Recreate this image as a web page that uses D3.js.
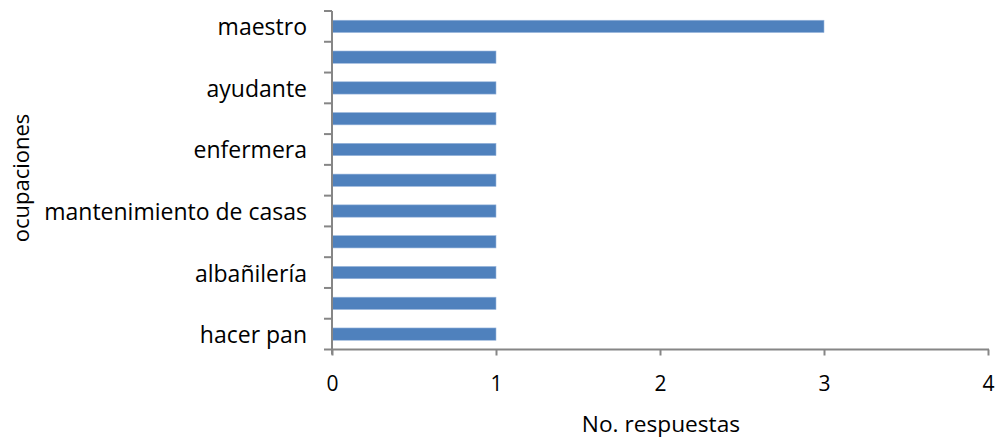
<!DOCTYPE html>
<html><head><meta charset="utf-8">
<script src="https://cdn.jsdelivr.net/npm/d3@7"></script>
<style>body{margin:0;background:#fff}svg{display:block}text{font-family:"Open Sans",sans-serif;fill:#000}</style>
</head><body>
<svg id="c" width="996" height="439"></svg>
<script>
// categories top to bottom; unlabeled ones are hidden (Excel skipped labels)
const categories = ["maestro","","ayudante","","enfermera","","mantenimiento de casas","","albañilería","","hacer pan"];
const values = [3,1,1,1,1,1,1,1,1,1,1];
const xTicks = [0,1,2,3,4];

(function(){
const svg = d3.select("#c");
const pL = 332, pR = 988, pT = 11, pB = 349.5;
const x = d3.scaleLinear().domain([0,4]).range([pL,pR]);
const idx = categories.map((d,i)=>i);
const y = d3.scaleBand().domain(idx).range([pT,pB]).paddingInner(0.6).paddingOuter(0.3);
const axisColor = "#868686";

svg.selectAll("rect.bar").data(values).enter().append("rect")
  .attr("class","bar")
  .attr("x", x(0)).attr("y",(d,i)=>y(i))
  .attr("width", d=>x(d)-x(0)).attr("height", y.bandwidth())
  .attr("fill","#4f81bd").attr("stroke","#9bb7dc").attr("stroke-width",0.6);

const step = (pB-pT)/categories.length;
svg.append("line").attr("x1",pL).attr("x2",pL).attr("y1",pT).attr("y2",pB+5)
  .attr("stroke",axisColor).attr("stroke-width",2);
d3.range(categories.length+1).forEach(k=>{
  const yy = pT + k*step;
  svg.append("line").attr("x1",pL-8).attr("x2",pL).attr("y1",yy).attr("y2",yy)
    .attr("stroke",axisColor).attr("stroke-width",2);
});
svg.selectAll("text.cat").data(categories).enter().append("text")
  .attr("class","cat").attr("x",pL-25).attr("y",(d,i)=>y(i)+y.bandwidth()/2)
  .attr("text-anchor","end").attr("dominant-baseline","central")
  .attr("font-size",23).text(d=>d);

const xAxis = d3.axisBottom(x).tickValues(xTicks).tickSize(6).tickPadding(21).tickFormat(d3.format("d"));
const gx = svg.append("g").attr("transform",`translate(0,${pB})`).call(xAxis);
gx.select(".domain").attr("stroke",axisColor).attr("stroke-width",2).attr("d",`M${pL},0H${pR+1}`);
gx.selectAll(".tick line").attr("stroke",axisColor).attr("stroke-width",2);
gx.selectAll(".tick text").attr("font-size",21).attr("font-family","'Open Sans',sans-serif").attr("fill","#000");

svg.append("text").attr("x",661).attr("y",432).attr("text-anchor","middle").attr("font-size",22.7).text("No. respuestas");
svg.append("text").attr("transform","translate(29,178) rotate(-90)").attr("text-anchor","middle").attr("font-size",22).text("ocupaciones");
})();
</script>
</body></html>
